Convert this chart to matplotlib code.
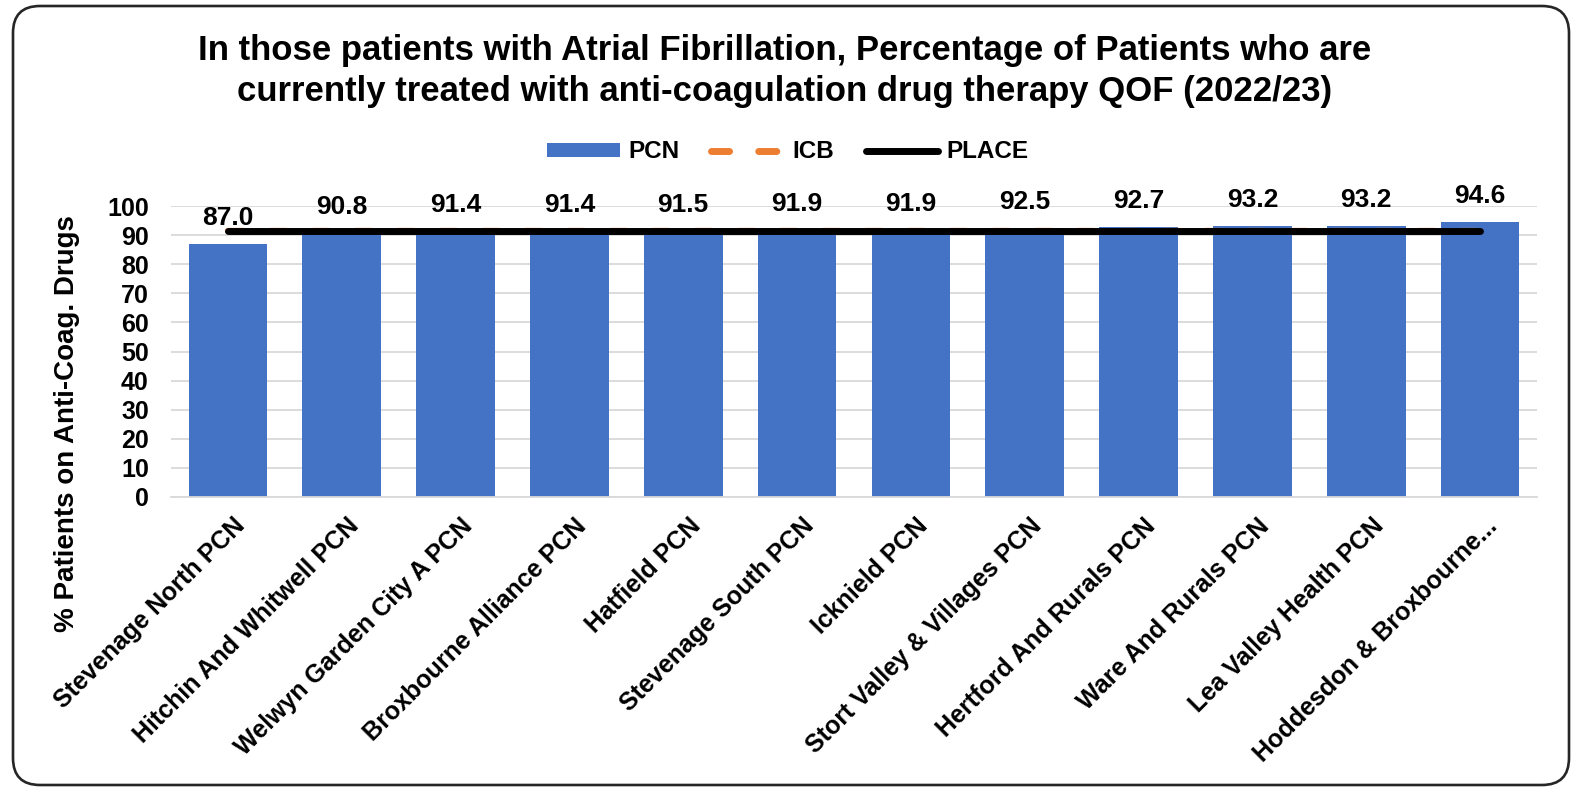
import matplotlib
matplotlib.use("Agg")
import matplotlib.pyplot as plt
import matplotlib.transforms as mtrans
from matplotlib.patches import FancyBboxPatch, Patch
from matplotlib.lines import Line2D

categories = ["Stevenage North PCN", "Hitchin And Whitwell PCN", "Welwyn Garden City A PCN",
              "Broxbourne Alliance PCN", "Hatfield PCN", "Stevenage South PCN", "Icknield PCN",
              "Stort Valley & Villages PCN", "Hertford And Rurals PCN", "Ware And Rurals PCN",
              "Lea Valley Health PCN", "Hoddesdon & Broxbourne..."]
pcn_values = [87.0, 90.8, 91.4, 91.4, 91.5, 91.9, 91.9, 92.5, 92.7, 93.2, 93.2, 94.6]
icb_value = 91.5
place_value = 91.5
yticks = list(range(0, 101, 10))

plt.rcParams['font.family'] = ['Liberation Sans', 'DejaVu Sans']

W, H = 1578, 787
fig = plt.figure(figsize=(W / 100, H / 100), dpi=100)
ax = fig.add_axes([171 / W, 1 - 497 / H, (1537 - 171) / W, (497 - 206) / H])

x = list(range(len(categories)))
blue = "#4472C4"
orange = "#ED7D31"
ax.bar(x, pcn_values, width=0.69, color=blue, zorder=2)
ax.plot(x, [icb_value] * len(x), color=orange, lw=4.5, ls=(0, (2.6, 4.2)),
        dash_capstyle='round', zorder=3)
ax.plot(x, [place_value] * len(x), color="black", lw=5, solid_capstyle='round', zorder=4)

for xi, v in zip(x, pcn_values):
    ax.annotate(f"{v:.1f}", xy=(xi, v), xytext=(0, 13.5), textcoords="offset points",
                ha="center", va="baseline", fontsize=19, fontweight="bold", zorder=5)

ax.set_ylim(0, 100)
ax.set_xlim(-0.5, len(x) - 0.5)
ax.set_yticks(yticks)
ax.set_yticklabels([str(t) for t in yticks], fontsize=18, fontweight="bold")
ax.set_xticks(x)
ax.set_xticklabels(categories, rotation=45, ha="right", va="top", rotation_mode="anchor",
                   fontsize=18, fontweight="bold")
ax.tick_params(axis='y', length=0, pad=16)
ax.tick_params(axis='x', length=0, pad=12)
shift = mtrans.ScaledTranslation(5 / 100, 0, fig.dpi_scale_trans)
for lab in ax.get_xticklabels():
    lab.set_transform(lab.get_transform() + shift)
ax.grid(axis="y", color="#D9D9D9", lw=1.3, zorder=0)
for s in ["top", "right", "left"]:
    ax.spines[s].set_visible(False)
ax.spines["bottom"].set_color("#D9D9D9")
ax.spines["bottom"].set_linewidth(1.3)

fig.text(67 / W, 1 - 424 / H, "% Patients on Anti-Coag. Drugs", rotation=90,
         ha="center", va="center", rotation_mode="anchor", fontsize=20, fontweight="bold")

fig.text(785 / W, 1 - 71 / H,
         "In those patients with Atrial Fibrillation, Percentage of Patients who are\n"
         "currently treated with anti-coagulation drug therapy QOF (2022/23)",
         ha="center", va="center", fontsize=25, fontweight="bold", linespacing=1.28)

handles = [Patch(facecolor=blue, label="PCN"),
           Line2D([0], [0], color=orange, lw=5, ls=(0, (2.6, 4.2)), dash_capstyle='round', label="ICB"),
           Line2D([0], [0], color="black", lw=5, solid_capstyle='round', label="PLACE")]
fig.legend(handles=handles, loc="center", bbox_to_anchor=(788 / W, 1 - 152 / H), ncol=3,
           frameon=False, prop={"weight": "bold", "size": 17.5}, handlelength=3.0,
           handletextpad=0.34, columnspacing=1.3, handleheight=0.55)

border = FancyBboxPatch((13, H - 785), 1569 - 13, 785 - 6,
                        boxstyle="round,pad=0,rounding_size=27",
                        transform=mtrans.IdentityTransform(),
                        facecolor="none", edgecolor="#262626", lw=1.9)
fig.patches.append(border)

fig.savefig("out.png", dpi=100)
